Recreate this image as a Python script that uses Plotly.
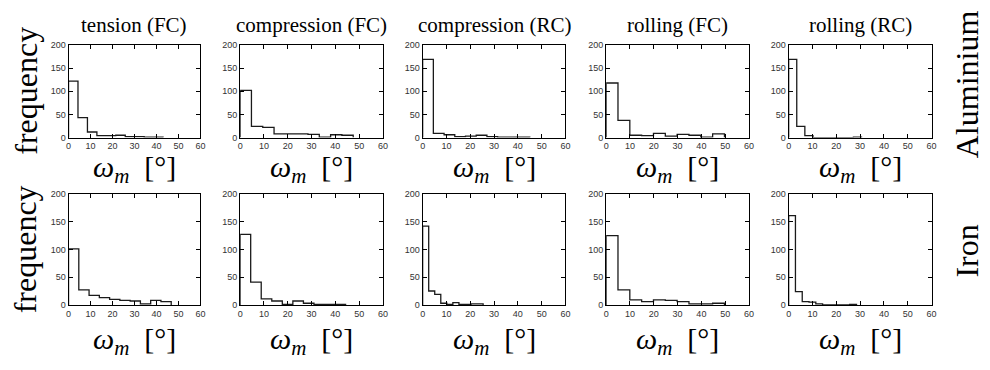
import plotly.graph_objects as go

# ---- data ----
titles = ["tension (FC)", "compression (FC)", "compression (RC)", "rolling (FC)", "rolling (RC)"]
row_labels = ["Aluminium", "Iron"]

# bin widths (degrees) and counts per panel
al_bin_width = [4.3, 4.75, 4.5, 4.97, 3.4]
al_tension_fc = [122, 43, 12, 4, 4, 5, 2, 2, 1, 1]
al_compression_fc = [102, 24, 22, 8, 8, 8, 7, 1, 6, 5]
al_compression_rc = [169, 9, 6, 2, 3, 5, 2, 1, 1, 1]
al_rolling_fc = [118, 37, 5, 4, 9, 3, 7, 5, 1, 8]
al_rolling_rc = [169, 24, 4, 0, 0, 0, 0, 0, 1]

fe_bin_width = [4.67, 4.43, 2.54, 4.97, 2.85]
fe_tension_fc = [101, 27, 17, 13, 10, 8, 7, 2, 8, 6]
fe_compression_fc = [127, 41, 11, 7, 1, 7, 3, 1, 1, 1]
fe_compression_rc = [142, 25, 19, 3, 1, 4, 1, 1, 2, 2]
fe_rolling_fc = [125, 27, 9, 6, 9, 8, 6, 2, 2, 3]
fe_rolling_rc = [161, 24, 6, 5, 2, 0, 0, 0, 0, 1]

x_ticks = [0, 10, 20, 30, 40, 50, 60]
y_ticks = [0, 50, 100, 150, 200]

rows = [
    (al_bin_width, [al_tension_fc, al_compression_fc, al_compression_rc, al_rolling_fc, al_rolling_rc]),
    (fe_bin_width, [fe_tension_fc, fe_compression_fc, fe_compression_rc, fe_rolling_fc, fe_rolling_rc]),
]

# ---- layout geometry (target pixels in the 990x370 window) ----
W, H = 990, 370
OFF = 8  # page body margin
col_px = [(66, 199), (239, 383), (423, 567), (608, 752), (792, 936)]
row_px = [(41, 136), (194, 308)]  # top, bottom


def px_x(p):
    return (p - OFF) / W


def px_y(p):
    return 1 - (p - OFF) / H


fig = go.Figure()
layout = dict(
    width=W, height=H, margin=dict(l=0, r=0, t=0, b=0),
    paper_bgcolor="white", plot_bgcolor="white", showlegend=False,
)

tick_font = dict(family="Liberation Sans", size=9, color="#333333")
serif = "Liberation Serif"

annotations = []
k = 0
for r, (widths, series) in enumerate(rows):
    top, bot = row_px[r]
    for c, counts in enumerate(series):
        k += 1
        xa = "x" if k == 1 else f"x{k}"
        ya = "y" if k == 1 else f"y{k}"
        w = widths[c]
        edges = [i * w for i in range(len(counts) + 1)]
        xs = [0] + edges
        ys = [0] + list(counts) + [0]
        fig.add_trace(go.Scatter(
            x=xs, y=ys, mode="lines", line=dict(color="#1a1a1a", width=1.3, shape="hv"),
            xaxis=xa, yaxis=ya, hoverinfo="skip"))
        x0, x1 = col_px[c]
        axkey = "xaxis" if k == 1 else f"xaxis{k}"
        aykey = "yaxis" if k == 1 else f"yaxis{k}"
        layout[axkey] = dict(
            domain=[px_x(x0), px_x(x1)], anchor=ya, range=[0, 60],
            tickvals=x_ticks, ticks="inside", ticklen=4, tickcolor="black",
            showline=True, linecolor="black", linewidth=1, mirror="ticks",
            showgrid=False, zeroline=False, tickfont=tick_font, fixedrange=True)
        layout[aykey] = dict(
            domain=[px_y(bot), px_y(top)], anchor=xa, range=[0, 200],
            tickvals=y_ticks, ticks="inside", ticklen=4, tickcolor="black",
            showline=True, linecolor="black", linewidth=1, mirror="ticks",
            showgrid=False, zeroline=False, tickfont=tick_font, fixedrange=True)
        # x-axis label
        xl_y = 168 if r == 0 else 345
        annotations.append(dict(
            text="<i>ω</i><sub><i>m</i></sub>  [°]", x=px_x((x0 + x1) / 2), y=px_y(xl_y),
            xref="paper", yref="paper", showarrow=False, xanchor="center", yanchor="middle",
            font=dict(family=serif, size=30, color="black")))
        if r == 0:
            annotations.append(dict(
                text=titles[c], x=px_x((x0 + x1) / 2), y=px_y(20),
                xref="paper", yref="paper", showarrow=False, xanchor="center", yanchor="middle",
                font=dict(family=serif, size=21, color="black")))
    # frequency label
    fy = 88 if r == 0 else 251
    annotations.append(dict(
        text="frequency", x=px_x(23), y=px_y(fy), textangle=-90,
        xref="paper", yref="paper", showarrow=False, xanchor="center", yanchor="middle",
        font=dict(family=serif, size=32, color="black")))
    ry = 81 if r == 0 else 253
    annotations.append(dict(
        text=row_labels[r], x=px_x(972), y=px_y(ry), textangle=-90,
        xref="paper", yref="paper", showarrow=False, xanchor="center", yanchor="middle",
        font=dict(family=serif, size=32, color="black")))

layout["annotations"] = annotations
fig.update_layout(**layout)
fig.write_html("out.html")
